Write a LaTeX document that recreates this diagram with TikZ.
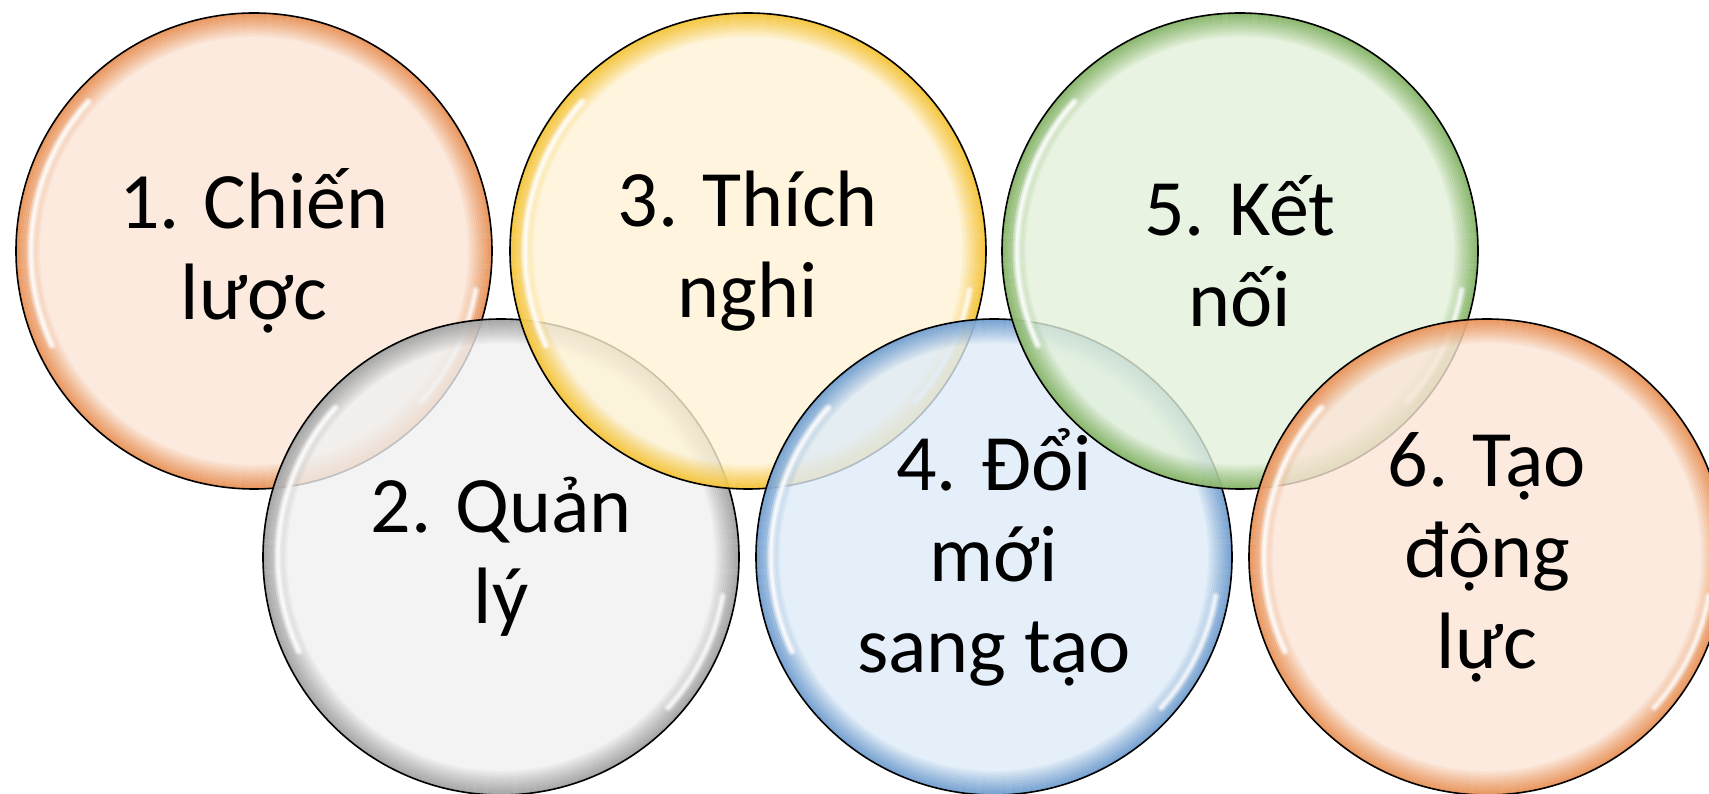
\documentclass[tikz,border=0pt]{standalone}
\usepackage{fontspec}
\setmainfont{Carlito}
\usetikzlibrary{calc}
\definecolor{peachfill}{RGB}{251,229,214}
\definecolor{peachring}{RGB}{232,144,84}
\definecolor{greyfill}{RGB}{240,240,240}
\definecolor{greyring}{RGB}{160,160,160}
\definecolor{yellowfill}{RGB}{255,243,214}
\definecolor{yellowring}{RGB}{244,194,50}
\definecolor{bluefill}{RGB}{222,235,247}
\definecolor{bluering}{RGB}{110,156,206}
\definecolor{greenfill}{RGB}{226,240,217}
\definecolor{greenring}{RGB}{130,178,100}

\begin{document}
\begin{tikzpicture}[x=1pt,y=1pt,
    bubble/.style 2 args={circle,draw=black,line width=1.6pt,minimum size=476pt,inner sep=0pt,
      fill=#1,fill opacity=0.8,text opacity=1,align=center,font=\fontsize{80}{91}\selectfont,
      path picture={
        \foreach \k [evaluate=\k as \op using 0.9*(1-\k/12)] in {0,...,11}
          \draw[#2,line width=2.2pt,draw opacity=\op] (path picture bounding box.center) circle ({237-2*\k});
        % soft white gloss
        \foreach \w/\o in {9/0.25,6/0.4,3/0.7}
          \draw[white,line width=\w pt,draw opacity=\o,line cap=round]
            ($(path picture bounding box.center)+(138:223)$) arc (138:205:223);
        \foreach \w/\o in {9/0.2,6/0.35,3/0.6}
          \draw[white,line width=\w pt,draw opacity=\o,line cap=round]
            ($(path picture bounding box.center)+(-42:225)$) arc (-42:-10:225);
      }}]
  \useasboundingbox (0,0) rectangle (1709,793);
  \clip (0,0) rectangle (1709,793);
  % upper and lower row
  \node[bubble={peachfill}{peachring}] (chien) at (254,542) {1. Chiến\\lược};
  \node[bubble={greyfill}{greyring}] (quan) at (501,236) {2. Quản\\lý};
  \node[bubble={yellowfill}{yellowring}] (thich) at (748,542) {3. Thích\\nghi};
  \node[bubble={bluefill}{bluering}] (doi) at (994,236) {4. Đổi\\mới\\sang tạo};
  \node[bubble={greenfill}{greenring}] (ket) at (1240,542) {5. Kết\\nối};
  \node[bubble={peachfill}{peachring}] (tao) at (1487,236) {6. Tạo\\động\\lực};
\end{tikzpicture}
\end{document}
